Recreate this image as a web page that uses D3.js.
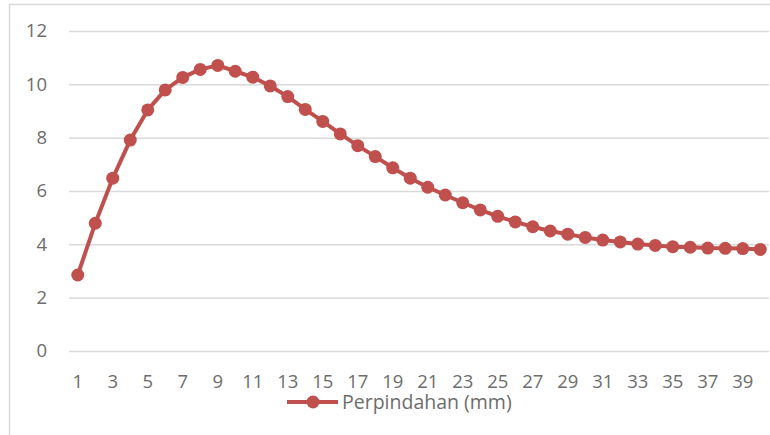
<!DOCTYPE html>
<html>
<head>
<meta charset="utf-8">
<script src="https://cdn.jsdelivr.net/npm/d3@7"></script>
<style>
  html, body { margin: 0; padding: 0; background: #fff; }
  svg { display: block; }
  .tick text { font-family: "Open Sans", "Noto Sans", sans-serif; fill: #6d6d6d; }
</style>
</head>
<body>
<svg id="chart" width="770" height="435"></svg>
<script>
// Displacement per step
const categories = d3.range(1, 41);
const perpindahan = [2.85, 4.79, 6.48, 7.91, 9.04, 9.79, 10.26, 10.56, 10.71, 10.49,
                     10.27, 9.94, 9.54, 9.06, 8.61, 8.14, 7.70, 7.29, 6.87, 6.48,
                     6.14, 5.85, 5.56, 5.29, 5.05, 4.84, 4.66, 4.50, 4.38, 4.26,
                     4.16, 4.09, 4.01, 3.96, 3.91, 3.89, 3.86, 3.85, 3.84, 3.81];
const yTicks = [0, 2, 4, 6, 8, 10, 12];
const seriesName = "Perpindahan (mm)";

const W = 770, H = 435;
const plot = { left: 69, right: 769, top: 31, bottom: 351 };
const color = "#c0504d";

const svg = d3.select("#chart");

// chart frame
svg.append("rect")
  .attr("x", 9.5).attr("y", 4.5)
  .attr("width", W + 10).attr("height", H + 10)
  .attr("fill", "#fff").attr("stroke", "#d9d9d9").attr("stroke-width", 1.5);

const x = d3.scaleBand().domain(categories).range([plot.left, plot.right]);
const y = d3.scaleLinear().domain([0, 12]).range([plot.bottom, plot.top]);

// horizontal gridlines + y labels
const yAxis = svg.append("g")
  .attr("transform", `translate(${plot.left},0)`)
  .call(d3.axisLeft(y).tickValues(yTicks).tickSize(-(plot.right - plot.left)).tickPadding(22));
yAxis.select(".domain").remove();
yAxis.selectAll(".tick line").attr("stroke", "#d9d9d9").attr("stroke-width", 1.5);
yAxis.selectAll(".tick text").attr("font-size", 18.5);

// x labels (every other category)
const xAxis = svg.append("g")
  .attr("transform", `translate(0,${plot.bottom})`)
  .call(d3.axisBottom(x).tickValues(categories.filter(c => c % 2 === 1)).tickSize(0).tickPadding(24));
xAxis.select(".domain").remove();
xAxis.selectAll(".tick text").attr("font-size", 18.5);

const cx = d => x(d) + x.bandwidth() / 2;
const pts = categories.map((c, i) => ({ c, v: perpindahan[i] }));

svg.append("path")
  .datum(pts)
  .attr("fill", "none")
  .attr("stroke", color)
  .attr("stroke-width", 4)
  .attr("stroke-linejoin", "round")
  .attr("d", d3.line().x(d => cx(d.c)).y(d => y(d.v)));

svg.append("g").selectAll("circle")
  .data(pts)
  .join("circle")
  .attr("cx", d => cx(d.c))
  .attr("cy", d => y(d.v))
  .attr("r", 6.5)
  .attr("fill", color);

// legend
const lg = svg.append("g").attr("transform", "translate(287,402)");
lg.append("line").attr("x1", 0).attr("x2", 51).attr("y1", 0).attr("y2", 0)
  .attr("stroke", color).attr("stroke-width", 4);
lg.append("circle").attr("cx", 26).attr("cy", 0).attr("r", 6.5).attr("fill", color);
lg.append("text").attr("x", 55).attr("y", 0).attr("dy", "0.35em")
  .attr("font-family", "'Open Sans', 'Noto Sans', sans-serif")
  .attr("font-size", 19.5).attr("fill", "#6d6d6d")
  .text(seriesName);
</script>
</body>
</html>
